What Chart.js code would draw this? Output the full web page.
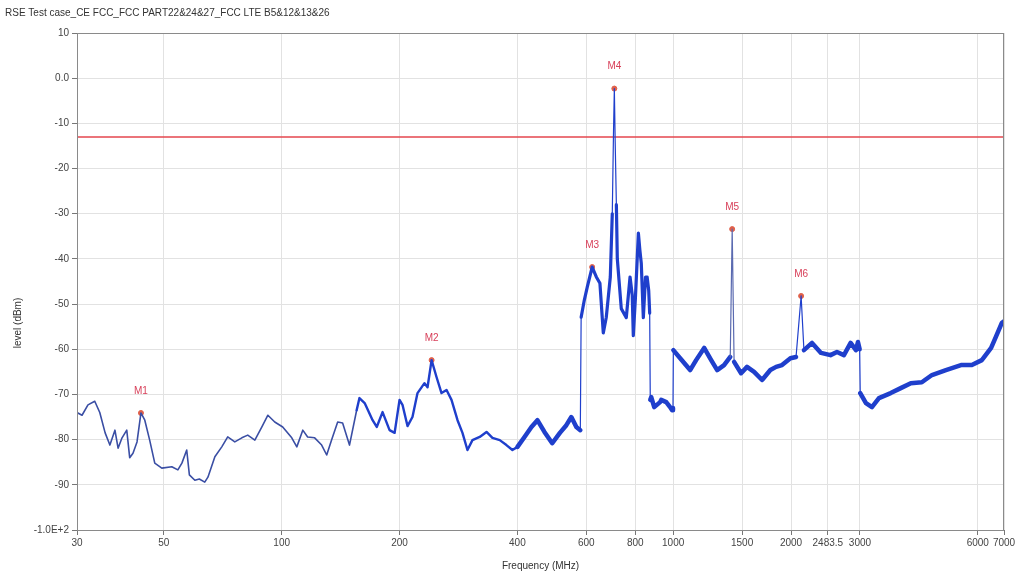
<!DOCTYPE html>
<html>
<head>
<meta charset="utf-8">
<script src="https://cdn.jsdelivr.net/npm/chart.js@4/dist/chart.umd.min.js"></script>
<style>
  html, body { margin: 0; padding: 0; background: #fff; }
  #wrap { width: 1019px; height: 576px; }
</style>
</head>
<body>
<div id="wrap"><canvas id="chart"></canvas></div>
<script>
const chartTitle = 'RSE Test case_CE FCC_FCC PART22&24&27_FCC LTE B5&12&13&26';

// trace (MHz, dBm)
const freqs = [
  30, 30.9, 32.0, 33.3, 34.3, 35.4, 36.4, 37.5, 38.2, 39.1, 40.2, 40.9, 41.7, 42.7, 43.7,
  44.7, 46.0, 47.4, 49.4, 52.4, 54.3, 55.6, 57.2, 58.1, 60.0, 61.6, 63.6, 64.8, 67.5, 70.3,
  72.8, 75.9, 79.1, 81.9, 85.4, 89.0, 92.2, 96.0, 100.6, 106.1, 109.3, 113.2, 116.5, 121.4,
  126.5, 130.3, 134.1, 139, 143.1, 149, 155.4, 158, 162.9, 170.7, 174.9, 181, 188.6, 194.3,
  200, 203.5, 209.6, 215.8, 222.3, 231.6, 235.8, 241.5, 248.7, 256, 263.7, 271.5, 281.3,
  289.6, 298.2, 307.1, 320.5, 333.6, 345.4, 360.6, 375, 388.5, 400.2, 417.1, 434.5, 450,
  469, 491, 513.6, 533.5, 549.4, 565.8, 579.2, 582, 593, 603.5, 621, 636.4, 650, 663, 674.8,
  690.9, 699, 704, 707.5, 711, 716, 720, 737, 759, 776, 786, 791, 801, 815, 822, 829, 839,
  850, 858, 866, 871, 874, 879, 894.6, 926, 932, 960, 982, 994, 999, 1001, 1042, 1105,
  1144.6, 1200, 1250.6, 1295.5, 1349, 1399, 1415, 1431, 1491, 1544, 1609.6, 1687, 1771,
  1832, 1897, 1993, 2060, 2122.5, 2158, 2263, 2386, 2523, 2621, 2730, 2840, 2930, 2965,
  2995, 3005, 3108, 3219, 3355, 3595, 3814, 4046, 4317, 4581, 4974, 5435, 5793, 6144,
  6489, 6669, 6907, 7000
];
const levels = [
  -74, -74.6, -72.3, -71.5, -74, -78.5, -81.2, -77.9, -81.9, -79.6, -77.9, -84, -83, -80.5, -74.1,
  -75.7, -80.1, -85.2, -86.3, -86, -86.7, -85.2, -82.3, -87.8, -89, -88.7, -89.4, -88.3, -83.8, -81.6,
  -79.4, -80.5, -79.6, -79, -80.1, -77.2, -74.6, -76.1, -77.2, -79.6, -81.6, -77.9, -79.4, -79.6,
  -81.2, -83.4, -80.1, -76.1, -76.3, -81.2, -73.5, -70.8, -71.9, -75.7, -77.2, -73.9, -77.9, -78.5,
  -71.2, -72.3, -77, -75, -69.7, -67.5, -68.4, -62.4, -66.2, -69.7, -69, -71.2, -75.7,
  -78.5, -82.3, -80.1, -79.4, -78.3, -79.6, -80.1, -81.2, -82.3, -81.6, -79.4, -77.2, -75.7,
  -78.3, -80.8, -78.5, -76.8, -75, -77.2, -77.9, -52.9, -49.1, -46.2, -41.8, -44, -45.4, -56.4, -52.9,
  -44, -30, -12, -2.3, -14, -28, -40, -51, -53, -44, -48, -57, -48.5, -34.3, -38, -41, -53,
  -44, -44, -47, -52, -71.2, -70.6, -72.8, -71.7, -71.2, -71.7, -72.8, -73.5, -73, -60.2, -62, -64.6,
  -62.4, -59.7, -62.4, -64.6, -63.5, -61.7, -33.4, -62.8, -65.3, -63.9, -65, -66.8, -64.6,
  -63.9, -63.5, -62, -61.7, -48.2, -60.2, -58.6, -60.8, -61.3, -60.6, -61.3, -58.6, -60.2, -58.4,
  -60, -69.7, -71.9, -72.8, -70.8, -69.7, -68.6, -67.5, -67.3, -65.7, -64.6, -63.5, -63.5, -62.4,
  -59.7, -57.3, -54.2, -53.8
];

const markerNames = ['M1', 'M2', 'M3', 'M4', 'M5', 'M6'];
const markerFreqs = [43.7, 241.5, 621, 707.5, 1415, 2122.5];
const markerLevels = [-74.1, -62.4, -41.8, -2.3, -33.4, -48.2];

const limitFreqs = [30, 7000];
const limitLevels = [-13, -13];

const xTicks = [30, 50, 100, 200, 400, 600, 800, 1000, 1500, 2000, 2483.5, 3000, 6000, 7000];
const yTicks = [10, 0, -10, -20, -30, -40, -50, -60, -70, -80, -90, -100];

const font = 'Liberation Sans, Arial, sans-serif';

const textPlugin = {
  id: 'texts',
  afterDraw(chart) {
    const c = chart.ctx;
    const a = chart.chartArea;
    c.save();
    // frame
    c.strokeStyle = '#8a8a8a';
    c.lineWidth = 1;
    c.strokeRect(a.left + 0.5, a.top + 0.5, a.right - a.left - 1, a.bottom - a.top);
    // title
    c.fillStyle = '#333';
    c.font = '10px ' + font;
    c.textAlign = 'left';
    c.textBaseline = 'middle';
    c.fillText(chartTitle, 5, 13);
    // y title
    c.translate(18, 323);
    c.rotate(-Math.PI / 2);
    c.textAlign = 'center';
    c.fillText('level (dBm)', 0, 0);
    c.restore();
    // marker labels
    const meta = chart.getDatasetMeta(2);
    c.save();
    c.fillStyle = '#d8405a';
    c.font = '10px ' + font;
    c.textAlign = 'center';
    c.textBaseline = 'middle';
    meta.data.forEach((pt, i) => c.fillText(markerNames[i], pt.x, pt.y - 22));
    c.restore();
  }
};

new Chart(document.getElementById('chart'), {
  type: 'line',
  data: {
    datasets: [
      {
        data: freqs.map((f, i) => ({ x: f, y: levels[i] })),
        borderColor: '#1f3fcc',
        pointRadius: 0,
        borderWidth: 3,
        borderJoinStyle: 'round',
        borderCapStyle: 'round',
        tension: 0,
        segment: {
          borderWidth: ctx => {
            const a = ctx.p0.parsed, b = ctx.p1.parsed;
            if (Math.abs(a.y - b.y) > 15) return 1.2;
            if (a.x >= 582 && a.x < 873) return Math.max(a.y, b.y) > -25 ? 1.2 : 3.2;
            if (Math.abs(a.y - b.y) > 8) return 1.2;
            if (a.x < 150) return 1.6;
            if (a.x < 400) return 2.4;
            return 4.5;
          },
          borderColor: ctx => {
            const a = ctx.p0.parsed, b = ctx.p1.parsed;
            if (Math.abs(a.y - b.y) > 20 && a.x > 1000) return '#5a6ab0';
            return a.x < 150 ? '#3a4ea4' : '#1f3fcc';
          }
        }
      },
      {
        data: limitFreqs.map((f, i) => ({ x: f, y: limitLevels[i] })),
        borderColor: '#e5464e',
        borderWidth: 1.5,
        pointRadius: 0
      },
      {
        data: markerFreqs.map((f, i) => ({ x: f, y: markerLevels[i] })),
        showLine: false,
        pointRadius: 2.5,
        pointBackgroundColor: '#e0604a',
        pointBorderColor: '#e0604a'
      }
    ]
  },
  options: {
    responsive: true,
    maintainAspectRatio: false,
    animation: false,
    layout: { padding: { top: 33, right: 15, left: 0, bottom: 0 } },
    plugins: { legend: { display: false }, tooltip: { enabled: false } },
    scales: {
      x: {
        type: 'logarithmic',
        min: 30,
        max: 7000,
        afterBuildTicks: s => { s.ticks = xTicks.map(v => ({ value: v })); },
        afterFit: s => { s.height = 46; },
        ticks: {
          autoSkip: false, maxRotation: 0, padding: 2,
          color: '#444', font: { family: font, size: 10 },
          callback: v => String(v)
        },
        grid: { color: '#e2e2e2', tickColor: '#777', tickLength: 5 },
        border: { color: '#777' },
        title: { display: true, text: 'Frequency (MHz)', color: '#333', font: { family: font, size: 10 }, padding: { top: 2 } }
      },
      y: {
        min: -100,
        max: 10,
        afterBuildTicks: s => { s.ticks = yTicks.map(v => ({ value: v })); },
        afterFit: s => { s.width = 77; },
        ticks: {
          padding: 3,
          color: '#444', font: { family: font, size: 10 },
          callback: v => v === 0 ? '0.0' : (v === -100 ? '-1.0E+2' : String(v))
        },
        grid: { color: '#e2e2e2', tickColor: '#777', tickLength: 5 },
        border: { color: '#777' }
      }
    }
  },
  plugins: [textPlugin]
});
</script>
</body>
</html>
